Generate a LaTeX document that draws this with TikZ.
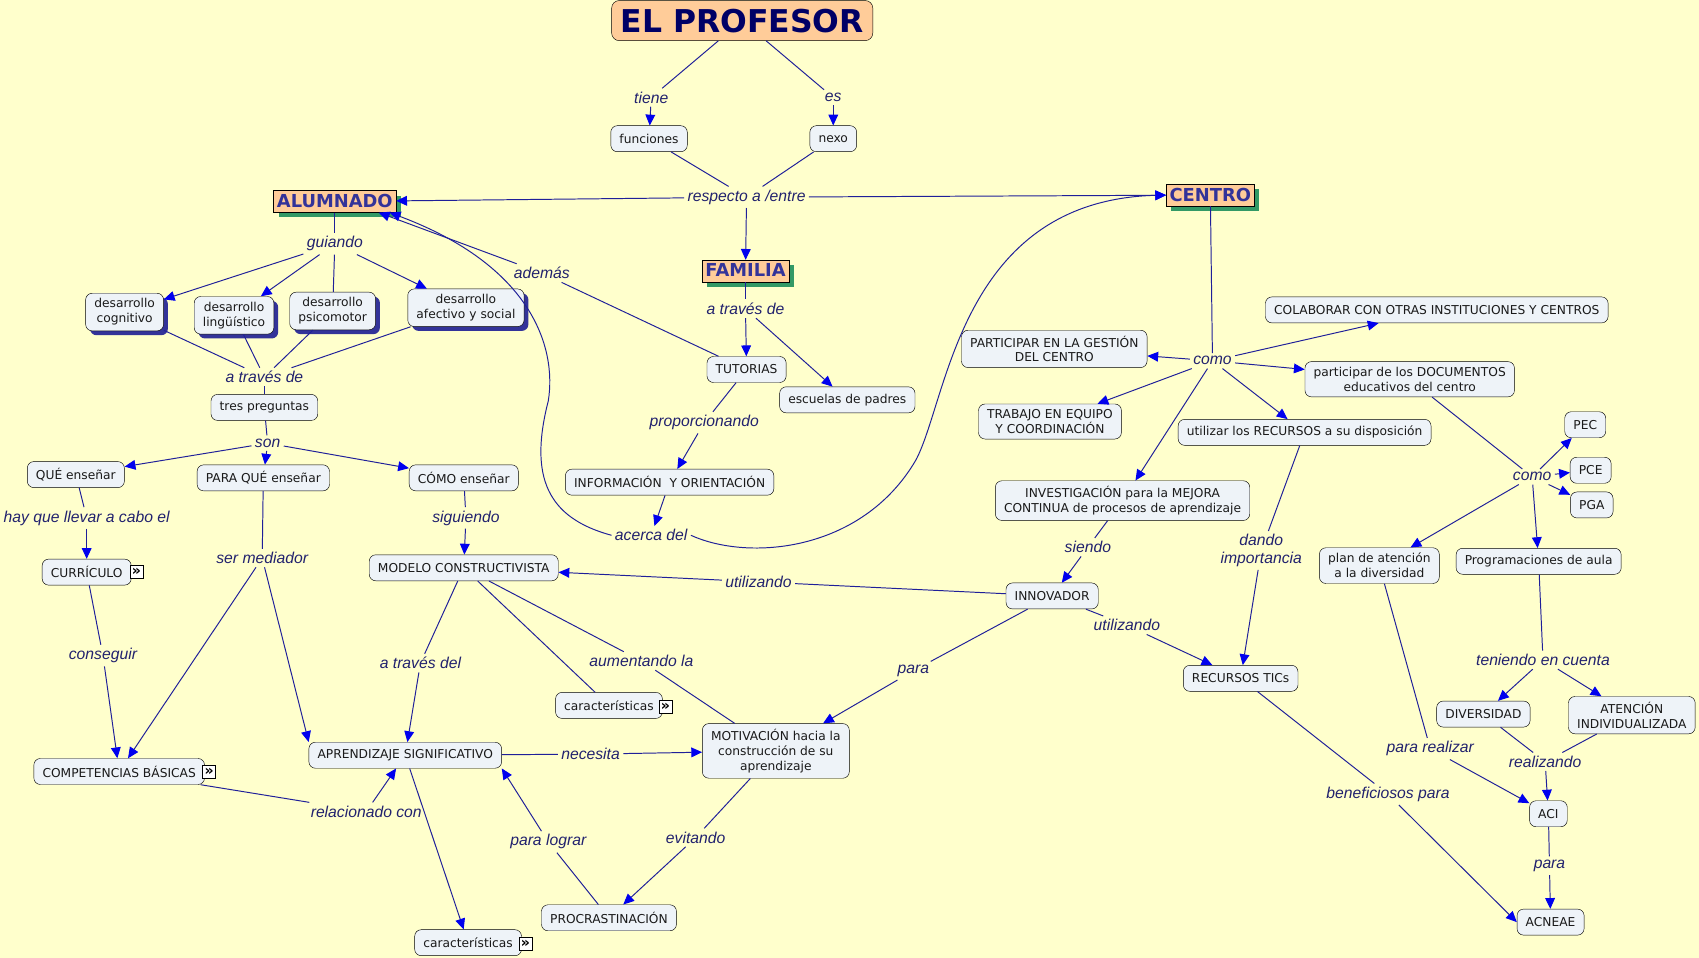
\documentclass[tikz,border=0pt]{standalone}
\usepackage{fontspec}
\setmainfont{DejaVu Sans}
\newfontfamily\phrasefont{Liberation Sans}
\usetikzlibrary{arrows.meta,shadows}
\definecolor{paper}{HTML}{FFFFCC}
\definecolor{boxfill}{HTML}{EEF3F8}
\definecolor{boxtext}{HTML}{1A1A1A}
\definecolor{peach}{HTML}{FFCC99}
\definecolor{titletext}{HTML}{000066}
\definecolor{keytext}{HTML}{333399}
\definecolor{keyshadow}{HTML}{339966}
\definecolor{devshadow}{HTML}{333399}
\definecolor{linkline}{HTML}{1F1F99}
\definecolor{tipblue}{HTML}{0000EE}
\definecolor{phrasetext}{HTML}{22226E}

\begin{document}
\begin{tikzpicture}[x=1pt,y=-1pt,
  box/.style={draw=black,fill=boxfill,rounded corners=6pt,text=boxtext,align=center,
    font=\fontsize{11.3}{13.8}\selectfont,inner xsep=8pt,inner ysep=5pt,minimum height=24pt},
  devbox/.style={box,drop shadow={shadow xshift=4pt,shadow yshift=-4pt,fill=devshadow,opacity=1}},
  keybox/.style={draw=black,fill=peach,text=keytext,font=\bfseries\fontsize{16.5}{18}\selectfont,
    inner xsep=3pt,inner ysep=3pt,text height=12.5pt,text depth=1.5pt,
    drop shadow={shadow xshift=4.5pt,shadow yshift=-4.5pt,fill=keyshadow,opacity=1}},
  titlebox/.style={draw=black,fill=peach,rounded corners=7pt,text=titletext,
    font=\bfseries\fontsize{29}{32}\selectfont,minimum width=241pt,minimum height=37pt},
  phrase/.style={text=phrasetext,font=\phrasefont\itshape\fontsize{14.5}{16}\selectfont,inner sep=3pt,align=center},
  icon/.style={draw=black,fill=white,inner sep=0pt,minimum size=12pt,text=black,
    font=\bfseries\fontsize{13}{13}\selectfont},
  link/.style={draw=linkline,line width=0.9pt},
  arr/.style={link,-{Triangle[length=10pt,width=9pt,color=tipblue]}}]
\fill[paper] (0,0) rectangle (1568,884);
\useasboundingbox (0,0) rectangle (1568,884);

\node[titlebox] (prof) at (685,19) {EL PROFESOR};
\node[phrase] (tiene) at (601,90) {tiene};
\node[phrase] (es) at (769,90) {es};
\node[box] (funciones) at (599,128) {funciones};
\node[box] (nexo) at (769,128) {nexo};
\node[phrase] (respecto) at (689,182) {respecto a /entre};
\node[keybox] (alumnado) at (309,186) {ALUMNADO};
\node[keybox] (familia) at (688,250) {FAMILIA};
\node[keybox] (centro) at (1117,180) {CENTRO};

\node[phrase] (guiando) at (309,225) {guiando};
\node[phrase] (ademas) at (500,252) {además};
\node[devbox] (cognitivo) at (115,288) {desarrollo\\cognitivo};
\node[devbox] (linguistico) at (216,291) {desarrollo\\lingüístico};
\node[devbox] (psicomotor) at (307,287) {desarrollo\\psicomotor};
\node[devbox] (afectivo) at (430,284) {desarrollo\\afectivo y social};
\node[phrase] (atravesA) at (244,348) {a través de};
\node[box] (preguntas) at (244,376) {tres preguntas};
\node[phrase] (son) at (247,409) {son};
\node[box] (queEns) at (70,438) {QUÉ enseñar};
\node[box] (paraqueEns) at (243,441) {PARA QUÉ enseñar};
\node[box] (comoEns) at (428,441) {CÓMO enseñar};
\node[phrase] (hayque) at (80,478) {hay que llevar a cabo el};
\node[phrase] (siguiendo) at (430,478) {siguiendo};
\node[box] (curriculo) at (80,528) {CURRÍCULO};
\node[icon] (curIcon) at (126,528) {»};
\node[phrase] (mediador) at (242,515) {ser mediador};
\node[box] (modelo) at (428,524) {MODELO CONSTRUCTIVISTA};
\node[phrase] (conseguir) at (95,605) {conseguir};
\node[phrase] (atravesdel) at (388,612) {a través del};
\node[phrase] (aumentando) at (592,610) {aumentando la};
\node[box] (caracM) at (562,651) {características};
\node[icon] (caracMIcon) at (614,652) {»};
\node[box] (competencias) at (110,712) {COMPETENCIAS BÁSICAS};
\node[icon] (compIcon) at (193,712) {»};
\node[box] (aprendizaje) at (374,697) {APRENDIZAJE SIGNIFICATIVO};
\node[phrase] (necesita) at (545,696) {necesita};
\node[box] (motivacion) at (716,693) {MOTIVACIÓN hacia la\\construcción de su\\aprendizaje};
\node[phrase] (relacionado) at (338,749) {relacionado con};
\node[phrase] (lograr) at (506,777) {para lograr};
\node[phrase] (evitando) at (642,773) {evitando};
\node[box] (caracA) at (432,870) {características};
\node[icon] (caracAIcon) at (485,871) {»};
\node[box] (procras) at (562,847) {PROCRASTINACIÓN};

\node[phrase] (atravesF) at (688,285) {a través de};
\node[box] (tutorias) at (689,341) {TUTORIAS};
\node[box] (escuelas) at (782,369) {escuelas de padres};
\node[phrase] (proporcionando) at (650,390) {proporcionando};
\node[box] (informacion) at (618,445) {INFORMACIÓN\ \ Y ORIENTACIÓN};
\node[phrase] (acerca) at (601,494) {acerca del};
\node[phrase] (utilizandoL) at (700,537) {utilizando};
\node[box] (innovador) at (971,550) {INNOVADOR};
\node[phrase] (para) at (843,619) {para};
\node[phrase] (utilizandoR) at (1040,577) {utilizando};
\node[phrase] (siendo) at (1004,505) {siendo};
\node[box] (investigacion) at (1036,462) {INVESTIGACIÓN para la MEJORA\\CONTINUA de procesos de aprendizaje};

\node[box] (gestion) at (973,322) {PARTICIPAR EN LA GESTIÓN\\DEL CENTRO};
\node[phrase] (comoC) at (1119,333) {como};
\node[box] (trabajo) at (969,389) {TRABAJO EN EQUIPO\\Y COORDINACIÓN};
\node[box] (colaborar) at (1326,286) {COLABORAR CON OTRAS INSTITUCIONES Y CENTROS};
\node[box] (documentos) at (1301,350) {participar de los DOCUMENTOS\\educativos del centro};
\node[box] (recursos) at (1204,399) {utilizar los RECURSOS a su disposición};
\node[phrase] (dando) at (1164,508) {dando\\importancia};
\node[box] (tics) at (1145,626) {RECURSOS TICs};
\node[phrase] (beneficiosos) at (1281,733) {beneficiosos para};
\node[box] (pec) at (1463,392) {PEC};
\node[box] (pce) at (1468,434) {PCE};
\node[box] (pga) at (1469,466) {PGA};
\node[phrase] (comoD) at (1414,440) {como};
\node[box] (plan) at (1273,522) {plan de atención\\a la diversidad};
\node[box] (programaciones) at (1420,518) {Programaciones de aula};
\node[phrase] (teniendo) at (1424,609) {teniendo en cuenta};
\node[box] (diversidad) at (1369,659) {DIVERSIDAD};
\node[box] (atencion) at (1506,660) {ATENCIÓN\\INDIVIDUALIZADA};
\node[phrase] (realizar) at (1320,691) {para realizar};
\node[phrase] (realizando) at (1426,703) {realizando};
\node[box] (aci) at (1429,751) {ACI};
\node[phrase] (paraA) at (1430,799) {para};
\node[box] (acneae) at (1431,851) {ACNEAE};

\draw[link] (prof) -- (tiene);
\draw[arr] (tiene) -- (funciones);
\draw[link] (prof) -- (es);
\draw[arr] (es) -- (nexo);
\draw[link] (funciones) -- (respecto);
\draw[link] (nexo) -- (respecto);
\draw[arr] (respecto) -- (alumnado);
\draw[arr] (respecto) -- (centro);
\draw[arr] (respecto) -- (familia);

\draw[link] (alumnado) -- (guiando);
\draw[arr] (guiando) -- (cognitivo);
\draw[arr] (guiando) -- (linguistico);
\draw[link] (guiando) -- (psicomotor);
\draw[arr] (guiando) -- (afectivo);
\draw[link] (cognitivo) -- (atravesA);
\draw[link] (linguistico) -- (atravesA);
\draw[link] (psicomotor) -- (atravesA);
\draw[link] (afectivo) -- (atravesA);
\draw[link] (atravesA) -- (preguntas);
\draw[link] (preguntas) -- (son);
\draw[arr] (son) -- (queEns);
\draw[arr] (son) -- (paraqueEns);
\draw[arr] (son) -- (comoEns);
\draw[link] (queEns) -- (hayque);
\draw[arr] (hayque) -- (curriculo);
\draw[link] (curriculo) -- (conseguir);
\draw[arr] (conseguir) -- (competencias);
\draw[link] (paraqueEns) -- (mediador);
\draw[arr] (mediador) -- (competencias);
\draw[arr] (mediador) -- (aprendizaje.north west);
\draw[link] (comoEns) -- (siguiendo);
\draw[arr] (siguiendo) -- (modelo);
\draw[link] (modelo) -- (atravesdel);
\draw[arr] (atravesdel) -- (aprendizaje);
\draw[link] (modelo) -- (caracM);
\draw[link] (modelo) -- (aumentando);
\draw[link] (aumentando) -- (motivacion);
\draw[link] (aprendizaje) -- (necesita);
\draw[arr] (necesita) -- (motivacion);
\draw[link] (competencias) -- (relacionado);
\draw[arr] (relacionado) -- (aprendizaje);
\draw[arr] (aprendizaje) -- (caracA);
\draw[link] (procras) -- (lograr);
\draw[arr] (lograr) -- (aprendizaje.south east);
\draw[link] (motivacion) -- (evitando);
\draw[arr] (evitando) -- (procras);

\draw[link] (familia) -- (atravesF);
\draw[arr] (atravesF) -- (tutorias);
\draw[arr] (atravesF) -- (escuelas);
\draw[link] (tutorias) -- (ademas);
\draw[arr] (ademas) -- ([xshift=-16pt]alumnado.south east);
\draw[link] (tutorias) -- (proporcionando);
\draw[arr] (proporcionando) -- (informacion);
\draw[arr] (informacion) -- (acerca);
\draw[arr] (acerca.west) .. controls (505,478) and (488,440) .. (506,370)
  .. controls (514,320) and (490,245) .. ([xshift=-6pt]alumnado.south east);
\draw[arr] (acerca.east) .. controls (690,518) and (795,510) .. (845,425)
  .. controls (875,370) and (885,185) .. (centro.west);

\draw[link] (centro) -- (comoC);
\draw[arr] (comoC) -- (gestion);
\draw[arr] (comoC) -- (trabajo);
\draw[arr] (comoC) -- (colaborar);
\draw[arr] (comoC) -- (documentos);
\draw[arr] (comoC) -- (recursos);
\draw[arr] (comoC) -- (investigacion);
\draw[link] (investigacion) -- (siendo);
\draw[arr] (siendo) -- (innovador);
\draw[link] (innovador) -- (utilizandoL);
\draw[arr] (utilizandoL) -- (modelo);
\draw[link] (innovador) -- (para);
\draw[arr] (para) -- (motivacion);
\draw[link] (innovador) -- (utilizandoR);
\draw[arr] (utilizandoR) -- (tics);
\draw[link] (recursos) -- (dando);
\draw[arr] (dando) -- (tics);
\draw[link] (tics) -- (beneficiosos);
\draw[arr] (beneficiosos) -- (acneae.west);

\draw[link] (documentos) -- (comoD);
\draw[arr] (comoD) -- (pec);
\draw[arr] (comoD) -- (pce);
\draw[arr] (comoD) -- (pga);
\draw[arr] (comoD) -- (plan);
\draw[arr] (comoD) -- (programaciones);
\draw[link] (programaciones) -- (teniendo);
\draw[arr] (teniendo) -- (diversidad);
\draw[arr] (teniendo) -- (atencion);
\draw[link] (diversidad) -- (realizando);
\draw[link] (atencion) -- (realizando);
\draw[arr] (realizando) -- (aci);
\draw[link] (plan) -- (realizar);
\draw[arr] (realizar) -- (aci);
\draw[link] (aci) -- (paraA);
\draw[arr] (paraA) -- (acneae);
\end{tikzpicture}
\end{document}
